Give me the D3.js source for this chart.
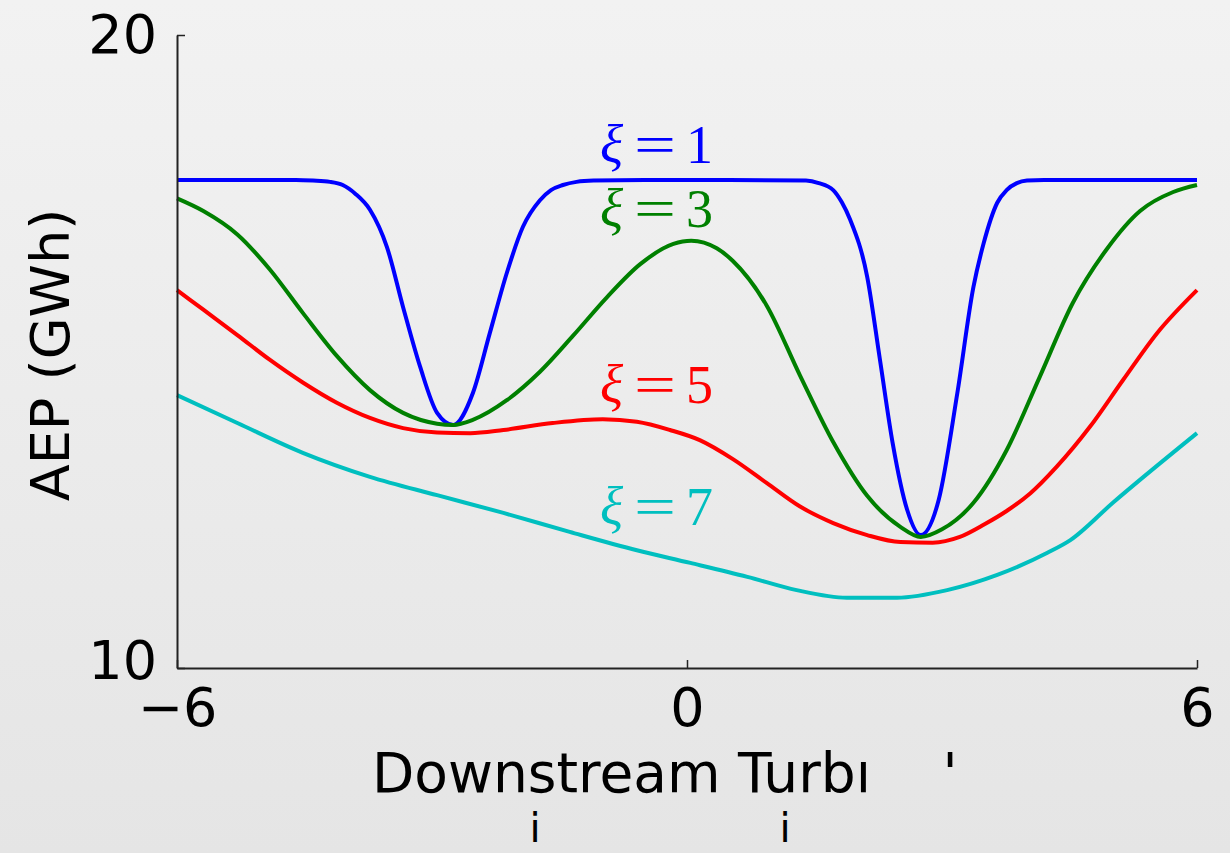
<!DOCTYPE html>
<html>
<head>
<meta charset="utf-8">
<script src="https://cdn.jsdelivr.net/npm/d3@7"></script>
<style>
  html, body { margin: 0; padding: 0; }
  body { width: 1230px; height: 853px; overflow: hidden; }
</style>
</head>
<body>
<div class="aep-chart"></div>
<script>
// values
const xi1X = [-6, -4.6, -4.4, -4.2, -4.05, -3.9, -3.73, -3.53, -3.34, -3.14, -2.94, -2.75, -2.52, -2.32, -2.12, -1.93, -1.73, -1.6, -1.46, -1.3, -1.1, -0.5, 0.5, 1.4, 1.55, 1.72, 1.82, 1.92, 2.12, 2.27, 2.42, 2.59, 2.75, 2.96, 3.18, 3.37, 3.49, 3.65, 3.76, 3.88, 4.0, 4.2, 6];
const xi1Y = [17.71, 17.71, 17.70, 17.68, 17.63, 17.49, 17.24, 16.65, 15.70, 14.76, 14.03, 13.84, 14.34, 15.29, 16.24, 16.97, 17.39, 17.55, 17.63, 17.68, 17.70, 17.71, 17.71, 17.70, 17.66, 17.55, 17.36, 17.08, 16.18, 14.87, 13.55, 12.50, 12.10, 12.65, 14.34, 16.02, 16.71, 17.35, 17.55, 17.66, 17.70, 17.71, 17.71];

const xi3X = [-6, -5.69, -5.29, -4.91, -4.52, -4.12, -3.73, -3.34, -2.94, -2.75, -2.52, -2.12, -1.73, -1.34, -0.94, -0.55, -0.16, 0.05, 0.35, 0.54, 0.94, 1.33, 1.72, 2.12, 2.51, 2.75, 3.0, 3.37, 3.76, 4.15, 4.54, 4.94, 5.33, 5.72, 6];
const xi3Y = [17.42, 17.22, 16.85, 16.30, 15.61, 14.93, 14.39, 14.03, 13.86, 13.84, 13.92, 14.23, 14.68, 15.25, 15.86, 16.38, 16.70, 16.75, 16.63, 16.43, 15.72, 14.62, 13.57, 12.72, 12.23, 12.07, 12.19, 12.61, 13.44, 14.60, 15.77, 16.62, 17.22, 17.52, 17.63];

const xi5X = [-6, -5.69, -5.29, -4.91, -4.52, -4.12, -3.73, -3.34, -2.94, -2.55, -2.16, -1.58, -0.99, -0.59, -0.2, 0.15, 0.54, 0.94, 1.33, 1.72, 2.12, 2.51, 2.89, 3.21, 3.5, 3.76, 4.04, 4.35, 4.74, 5.13, 5.53, 6];
const xi5Y = [15.97, 15.66, 15.26, 14.87, 14.51, 14.19, 13.95, 13.79, 13.72, 13.71, 13.76, 13.87, 13.93, 13.89, 13.76, 13.60, 13.30, 12.92, 12.55, 12.29, 12.10, 11.99, 11.98, 12.07, 12.27, 12.48, 12.76, 13.18, 13.81, 14.55, 15.29, 15.97];

const xi7X = [-6, -5.29, -4.52, -3.73, -2.94, -2.16, -1.38, -0.59, 0.04, 0.71, 1.29, 1.88, 2.47, 3.06, 3.65, 4.24, 4.51, 5.01, 6];
const xi7Y = [14.31, 13.87, 13.40, 13.02, 12.73, 12.45, 12.15, 11.86, 11.66, 11.44, 11.23, 11.11, 11.11, 11.23, 11.47, 11.82, 12.02, 12.61, 13.71];

const xiValues = [1, 3, 5, 7];
const lineColors = ['#0000ff', '#008000', '#ff0000', '#00bfbf'];
const xTicks = [-6, 0, 6];
const yTicks = [10, 20];

const width = 1230;
const height = 853;
const margin = {left: 177, right: 33, top: 35, bottom: 185};

const svg = d3.select('.aep-chart')
    .append('svg')
    .attr('width', width)
    .attr('height', height)

// grey gradient background
const grad = svg.append('defs').append('linearGradient')
    .attr('id', 'bg')
    .attr('x1', 0).attr('y1', 0).attr('x2', 0).attr('y2', 1)
grad.append('stop').attr('offset', '0%').attr('stop-color', '#f2f2f2')
grad.append('stop').attr('offset', '100%').attr('stop-color', '#e5e5e5')
svg.append('rect')
    .attr('width', width)
    .attr('height', height)
    .attr('fill', 'url(#bg)')

const x = d3.scaleLinear()
    .domain([-6, 6])
    .range([margin.left, width - margin.right])
const y = d3.scaleLinear()
    .domain([10, 20])
    .range([height - margin.bottom, margin.top])

const series = [
    {xs: xi1X, ys: xi1Y},
    {xs: xi3X, ys: xi3Y},
    {xs: xi5X, ys: xi5Y},
    {xs: xi7X, ys: xi7Y}
].map((s, i) => ({
    xi: xiValues[i],
    color: lineColors[i],
    points: s.xs.map((v, j) => [v, s.ys[j]])
}))

const line = d3.line()
    .x(d => x(d[0]))
    .y(d => y(d[1]))
    .curve(d3.curveMonotoneX)

svg.selectAll('.curve')
    .data(series)
    .enter()
    .append('path')
    .attr('class', 'curve')
    .attr('d', s => line(s.points))
    .attr('fill', 'none')
    .attr('stroke', s => s.color)
    .attr('stroke-width', 4)

// axes, ticks pointing inward
const axisFont = "'DejaVu Sans', sans-serif";
const xAxis = svg.append('g')
    .attr('transform', `translate(0,${height - margin.bottom})`)
    .call(d3.axisBottom(x).tickValues(xTicks).tickSizeInner(-8).tickSizeOuter(0).tickPadding(20))
const yAxis = svg.append('g')
    .attr('transform', `translate(${margin.left},0)`)
    .call(d3.axisLeft(y).tickValues(yTicks).tickSizeInner(-8).tickSizeOuter(0).tickPadding(20))

;[xAxis, yAxis].forEach(g => {
    g.select('.domain').attr('stroke', '#222').attr('stroke-width', 2)
    g.selectAll('.tick line').attr('stroke', '#222').attr('stroke-width', 1.5)
    g.selectAll('.tick text')
        .attr('font-family', axisFont)
        .attr('font-size', '54px')
        .attr('fill', '#000')
})
// lift the bottom y label a little so it clears "−6"
yAxis.selectAll('.tick text').filter(d => d === 10).attr('dy', '0.2em')

// curve labels
const labelY = [163, 227, 403, 525];
const labels = svg.selectAll('.xi-label')
    .data(series)
    .enter()
    .append('text')
    .attr('class', 'xi-label')
    .attr('y', (s, i) => labelY[i])
    .attr('font-family', "'Liberation Serif', 'DejaVu Serif', serif")
    .attr('font-size', '54px')
    .attr('fill', s => s.color)
labels.append('tspan').attr('x', 600).attr('font-style', 'italic').text('ξ')
labels.append('tspan').attr('x', 634)
    .attr('textLength', 42).attr('lengthAdjust', 'spacingAndGlyphs').text('=')
labels.append('tspan').attr('x', 686).text(s => s.xi)

// axis titles
svg.append('text')
    .attr('transform', 'translate(69,355) rotate(-90)')
    .attr('text-anchor', 'middle')
    .attr('font-family', axisFont)
    .attr('font-size', '54px')
    .text('AEP (GWh)')

svg.append('text')
    .attr('x', 372)
    .attr('y', 792)
    .attr('font-family', axisFont)
    .attr('font-size', '55px')
    .text('Downstream Turbı')
svg.append('text')
    .attr('x', 950)
    .attr('y', 792)
    .attr('text-anchor', 'middle')
    .attr('font-family', axisFont)
    .attr('font-size', '55px')
    .text("'")
svg.selectAll('.stray-i')
    .data([535, 785])
    .enter()
    .append('text')
    .attr('class', 'stray-i')
    .attr('x', d => d)
    .attr('y', 842)
    .attr('text-anchor', 'middle')
    .attr('font-family', axisFont)
    .attr('font-size', '40px')
    .text('i')
</script>
</body>
</html>
